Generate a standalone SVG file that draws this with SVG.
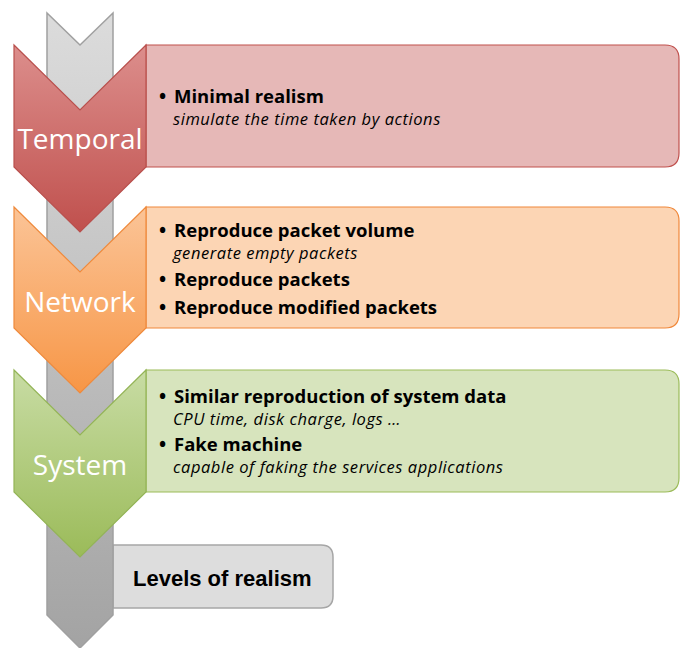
<svg xmlns="http://www.w3.org/2000/svg" width="680" height="648" viewBox="0 0 680 648">
<defs>
<linearGradient id="gGray" x1="0" y1="0" x2="0" y2="1"><stop offset="0" stop-color="#dcdcdc"/><stop offset="1" stop-color="#a3a3a3"/></linearGradient>
<linearGradient id="gRed" x1="0" y1="0" x2="0" y2="1"><stop offset="0" stop-color="#dc8e8c"/><stop offset="1" stop-color="#c0504d"/></linearGradient>
<linearGradient id="gOrange" x1="0" y1="0" x2="0" y2="1"><stop offset="0" stop-color="#fbc497"/><stop offset="1" stop-color="#f79646"/></linearGradient>
<linearGradient id="gGreen" x1="0" y1="0" x2="0" y2="1"><stop offset="0" stop-color="#c8dca4"/><stop offset="1" stop-color="#9bbb59"/></linearGradient>
</defs>
<style>
.lab{font-family:"Open Sans","Liberation Sans",sans-serif;font-size:28px;fill:#ffffff;text-anchor:middle}
.b{font-family:"Open Sans","Liberation Sans",sans-serif;font-size:18.5px;font-weight:bold;fill:#000}
.i{font-family:"Open Sans","Liberation Sans",sans-serif;font-size:16.5px;font-style:italic;letter-spacing:0.55px;fill:#000}
.dot{font-family:"Open Sans","Liberation Sans",sans-serif;font-size:19px;font-weight:bold;fill:#000}
.title{font-family:"Liberation Sans",Arial,sans-serif;font-size:22px;font-weight:bold;fill:#000}
</style>
<rect width="680" height="648" fill="#ffffff"/>
<g id="legend">
<path d="M113,545 H321 Q333,545 333,557 V596 Q333,608 321,608 H113 Z" fill="#dddddd" stroke="#a6a6a6" stroke-width="1.5"/>
<text class="title" x="133" y="586">Levels of realism</text>
</g>
<g id="connectors">
<polygon points="47,13 80,45 113,13 113,615 80,648 47,615" fill="url(#gGray)" stroke="#a0a0a0" stroke-width="1.5"/>
</g>
<g id="temporal">
<path d="M146,45 H665 Q679,45 679,59 V153 Q679,167 665,167 H146 Z" fill="#e6b8b7" stroke="#c0504d" stroke-width="1.2"/>
<polygon points="14,45 80,110 146,45 146,167 80,232 14,167" fill="url(#gRed)" stroke="#b9504d" stroke-width="1.2"/>
<text class="lab" x="80" y="149">Temporal</text>
<text class="dot" x="159" y="103">•</text>
<text class="b" x="174" y="103">Minimal realism</text>
<text class="i" x="173" y="125">simulate the time taken by actions</text>
</g>
<g id="network">
<path d="M146,207 H665 Q679,207 679,221 V314 Q679,328 665,328 H146 Z" fill="#fcd5b4" stroke="#f0883a" stroke-width="1.2"/>
<polygon points="14,207 80,272 146,207 146,328 80,393 14,328" fill="url(#gOrange)" stroke="#ef8a3c" stroke-width="1.2"/>
<text class="lab" x="80" y="312">Network</text>
<text class="dot" x="159" y="237">•</text>
<text class="b" x="174" y="237">Reproduce packet volume</text>
<text class="i" x="173" y="259">generate empty packets</text>
<text class="dot" x="159" y="286">•</text>
<text class="b" x="174" y="286">Reproduce packets</text>
<text class="dot" x="159" y="314">•</text>
<text class="b" x="174" y="314">Reproduce modified packets</text>
</g>
<g id="system">
<path d="M146,370 H665 Q679,370 679,384 V478 Q679,492 665,492 H146 Z" fill="#d7e4bd" stroke="#9bbb59" stroke-width="1.2"/>
<polygon points="14,370 80,435 146,370 146,492 80,557 14,492" fill="url(#gGreen)" stroke="#93b456" stroke-width="1.2"/>
<text class="lab" x="80" y="475">System</text>
<text class="dot" x="159" y="403">•</text>
<text class="b" x="174" y="403">Similar reproduction of system data</text>
<text class="i" x="173" y="425">CPU time, disk charge, logs …</text>
<text class="dot" x="159" y="451">•</text>
<text class="b" x="174" y="451">Fake machine</text>
<text class="i" x="173" y="473">capable of faking the services applications</text>
</g>
</svg>
